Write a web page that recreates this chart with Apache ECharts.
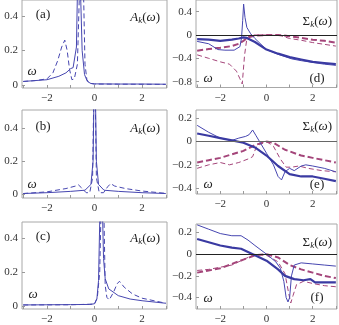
<!DOCTYPE html>
<html>
<head>
<meta charset="utf-8">
<script src="https://cdn.jsdelivr.net/npm/echarts@6/dist/echarts.min.js"></script>
<style>
    html, body { margin: 0; padding: 0; background: #fff; }
    #chart { width: 339px; height: 325px; }
</style>
</head>
<body>
<div id="chart"></div>
<script>
// 横轴刻度
const xTicks = [-2, 0, 2]
const xMinor = [-3, -2, -1, 0, 1, 2, 3]

// 纵轴刻度
const aTicks = [0, 0.2, 0.4]
const dTicks = [-0.8, -0.4, 0, 0.4]
const eTicks = [-0.4, -0.2, 0, 0.2]
const fTicks = [-0.4, -0.2, 0, 0.2]

// (a) 谱函数
const aSolid = [[-3, 0.02], [-2.5, 0.025], [-2, 0.03], [-1.5, 0.05], [-1.2, 0.07], [-1.0, 0.095], [-0.9, 0.1], [-0.82, 0.11],
    [-0.76, 0.22], [-0.71, 0.6], [-0.66, 1.6], [-0.6, 0.6], [-0.52, 0.2], [-0.42, 0.06], [-0.3, 0.02], [-0.15, 0.008], [0, 0.006], [1, 0.005], [2, 0.005], [3, 0.004]]
const aDashed = [[-3, 0.02], [-2.5, 0.025], [-2, 0.035], [-1.75, 0.07], [-1.55, 0.14], [-1.38, 0.22], [-1.25, 0.26], [-1.15, 0.2],
    [-1.05, 0.09], [-0.95, 0.03], [-0.85, 0.035], [-0.72, 0.12], [-0.62, 0.6], [-0.54, 1.6], [-0.47, 0.6], [-0.4, 0.12], [-0.32, 0.03], [-0.2, 0.01], [0, 0.005], [3, 0.003]]

// (b)
const bSolid = [[-3, 0.005], [-2, 0.01], [-1, 0.018], [-0.4, 0.025], [-0.15, 0.06], [-0.06, 0.2], [-0.02, 0.6], [0.01, 1.6],
    [0.04, 0.6], [0.08, 0.2], [0.17, 0.06], [0.4, 0.025], [1, 0.018], [2, 0.01], [3, 0.005]]
const bDashed = [[-3, 0.005], [-2, 0.015], [-1.2, 0.035], [-0.8, 0.05], [-0.68, 0.058], [-0.55, 0.04], [-0.35, 0.01], [-0.2, 0.01],
    [-0.08, 0.1], [-0.03, 0.6], [0, 1.6], [0.03, 0.6], [0.08, 0.1], [0.2, 0.01], [0.38, 0.01], [0.55, 0.045], [0.68, 0.065],
    [0.85, 0.05], [1.3, 0.035], [2, 0.02], [3, 0.006]]

// (c)
const cSolid = [[-3, 0.005], [-2, 0.006], [-1, 0.007], [-0.2, 0.008], [0, 0.012], [0.1, 0.04], [0.17, 0.15], [0.22, 0.5],
    [0.27, 1.6], [0.33, 0.6], [0.38, 0.28], [0.45, 0.16], [0.6, 0.1], [1, 0.06], [1.5, 0.04], [2, 0.03], [3, 0.015]]
const cDashed = [[-3, 0.005], [-1, 0.006], [0, 0.01], [0.12, 0.05], [0.22, 0.2], [0.28, 0.6], [0.33, 1.6], [0.39, 0.6],
    [0.45, 0.12], [0.52, 0.05], [0.62, 0.035], [0.8, 0.08], [0.95, 0.13], [1.05, 0.145], [1.25, 0.11], [1.6, 0.07], [2, 0.045], [3, 0.015]]

// (d) 自能
const dThick = [[-3, -0.07], [-2.5, -0.08], [-2, -0.1], [-1.5, -0.08], [-1.2, -0.06], [-1.0, -0.04], [-0.85, -0.05],
    [-0.5, -0.12], [0, -0.25], [0.5, -0.32], [1, -0.38], [1.5, -0.42], [2, -0.46], [2.5, -0.48], [3, -0.5]]
const dThin = [[-3, -0.11], [-2.5, -0.15], [-2.1, -0.25], [-1.8, -0.26], [-1.4, -0.26], [-1.15, -0.2], [-1.08, -0.05],
    [-1.03, 0.25], [-0.99, 0.53], [-0.93, 0.3], [-0.85, 0.13], [-0.7, 0.03], [-0.5, -0.06], [0, -0.25], [0.5, -0.33],
    [1.1, -0.41], [1.5, -0.44], [2, -0.47], [2.5, -0.5], [3, -0.52]]
const dThickDash = [[-3, -0.27], [-2.5, -0.24], [-2, -0.22], [-1.5, -0.19], [-1.2, -0.15], [-1.0, -0.1], [-0.8, -0.04],
    [-0.5, -0.01], [0, 0], [0.5, 0], [1, -0.02], [1.5, -0.05], [2, -0.08], [2.5, -0.1], [3, -0.13]]
const dThinDash = [[-3, -0.34], [-2.5, -0.4], [-2, -0.46], [-1.6, -0.5], [-1.3, -0.62], [-1.15, -0.75], [-1.05, -0.84],
    [-0.95, -0.35], [-0.85, -0.06], [-0.7, 0], [0, 0], [0.6, -0.01], [1, -0.06], [1.5, -0.09], [2, -0.13], [2.5, -0.16], [3, -0.19]]

// (e)
const eThick = [[-3, 0.07], [-2.5, 0.05], [-2, 0.03], [-1.5, 0.01], [-1, -0.01], [-0.5, -0.05], [0, -0.12], [0.5, -0.21],
    [1, -0.28], [1.5, -0.3], [2, -0.3], [2.5, -0.32], [3, -0.34]]
const eThin = [[-3, 0.14], [-2.5, 0.08], [-2, 0.03], [-1.5, 0.01], [-1.2, 0.03], [-0.9, 0.045], [-0.75, 0.06],
    [-0.6, 0.1], [-0.45, 0.05], [-0.3, 0], [0, -0.1], [0.3, -0.2], [0.5, -0.3], [0.65, -0.33], [0.8, -0.26], [1, -0.23],
    [1.2, -0.25], [1.5, -0.21], [1.7, -0.2], [2, -0.21], [2.5, -0.23], [3, -0.26]]
const eThickDash = [[-3, -0.18], [-2.5, -0.16], [-2, -0.14], [-1.5, -0.11], [-1, -0.08], [-0.5, -0.03], [0, 0],
    [0.3, -0.01], [0.8, -0.07], [1.5, -0.12], [2, -0.14], [2.5, -0.16], [3, -0.18]]
const eThinDash = [[-3, -0.23], [-2.5, -0.2], [-2, -0.18], [-1.6, -0.2], [-1.2, -0.18], [-0.8, -0.15], [-0.6, -0.13],
    [-0.45, -0.05], [-0.2, -0.01], [0, 0], [0.3, -0.04], [0.6, -0.15], [0.85, -0.22], [1.1, -0.22], [1.4, -0.21],
    [1.8, -0.23], [2.4, -0.25], [3, -0.26]]

// (f)
const fThin = [[-3, 0.27], [-2.5, 0.23], [-2, 0.19], [-1.5, 0.17], [-1.1, 0.17], [-0.8, 0.13], [-0.5, 0.08], [0, 0],
    [0.4, -0.07], [0.6, -0.13], [0.75, -0.25], [0.85, -0.4], [0.93, -0.44], [1.0, -0.4], [1.08, -0.2], [1.2, -0.1],
    [1.5, -0.08], [2, -0.09], [2.5, -0.1], [3, -0.11]]
const fThick = [[-3, 0.14], [-2.5, 0.11], [-2, 0.08], [-1.5, 0.06], [-1.1, 0.05], [-0.5, -0.01], [0, -0.06], [0.5, -0.14],
    [0.8, -0.2], [1.2, -0.23], [1.6, -0.24], [1.9, -0.23], [2.1, -0.26], [2.5, -0.26], [3, -0.26]]
const fThickDash = [[-3, -0.17], [-2.5, -0.15], [-2, -0.13], [-1.5, -0.09], [-1, -0.05], [-0.5, -0.01], [0, 0],
    [0.5, -0.03], [1, -0.1], [1.5, -0.14], [2, -0.17], [2.5, -0.2], [3, -0.22]]
const fThinDash = [[-3, -0.15], [-2.5, -0.14], [-2, -0.12], [-1.5, -0.1], [-1, -0.05], [-0.5, 0], [0, -0.01], [0.5, -0.07],
    [0.8, -0.18], [0.95, -0.35], [1.05, -0.45], [1.15, -0.38], [1.3, -0.28], [1.6, -0.25], [2, -0.27], [2.5, -0.29], [3, -0.3]]

const BLUE = '#4646b0'
const BLUE_THICK = '#3a3aa2'
const PURPLE = '#a4457a'
const FONT = 'Liberation Serif'

// 面板布局
const panels = [
    { left: 22, top: 0, width: 145, height: 88, min: -0.018, max: 0.493, ticks: aTicks },
    { left: 22, top: 110, width: 145, height: 88, min: -0.022, max: 0.509, ticks: aTicks },
    { left: 22, top: 222, width: 145, height: 88, min: -0.019, max: 0.496, ticks: aTicks },
    { left: 196, top: 0, width: 141, height: 87.5, min: -0.9, max: 0.6, ticks: dTicks },
    { left: 196, top: 110, width: 141, height: 84, min: -0.451, max: 0.272, ticks: eTicks },
    { left: 196, top: 224, width: 141, height: 85, min: -0.505, max: 0.278, ticks: fTicks },
]

function fmt(v) {
    if (Math.abs(v) < 1e-9) return '0'
    return String(Math.round(v * 10) / 10).replace('-', '\u2212')
}

const grid = panels.map(p => ({
    left: p.left, top: p.top, width: p.width, height: p.height,
    show: true, borderColor: '#a8a8a8', borderWidth: 1, containLabel: false
}))

const xAxis = panels.map((p, i) => ({
    type: 'value', gridIndex: i, min: -3.05, max: 3.05, position: 'bottom',
    axisLine: { show: false, onZero: false },
    splitLine: { show: false },
    axisTick: { inside: true, length: 3, customValues: xMinor, lineStyle: { color: '#999' } },
    axisLabel: { customValues: xTicks, formatter: fmt, fontFamily: FONT, fontSize: 11, color: '#333', margin: 5 }
}))

const yAxis = panels.map((p, i) => ({
    type: 'value', gridIndex: i, min: p.min, max: p.max, position: 'left',
    axisLine: { show: false, onZero: false },
    splitLine: { show: false },
    axisTick: { inside: true, length: 3, customValues: p.ticks, lineStyle: { color: '#999' } },
    axisLabel: { customValues: p.ticks, formatter: fmt, fontFamily: FONT, fontSize: 11, color: '#333', margin: 4 }
}))

function line(idx, data, color, width, dashed) {
    return {
        type: 'line', xAxisIndex: idx, yAxisIndex: idx, data: data,
        symbol: 'none', clip: true, silent: true,
        lineStyle: { color: color, width: width, type: dashed ? [width > 1.5 ? 6 : 5, 3] : 'solid' }
    }
}

// 自能面板里 y=0 的横线挂在粗虚线上
function withZero(s, color) {
    s.markLine = {
        silent: true, symbol: 'none', label: { show: false },
        lineStyle: { color: color, width: 1, type: 'solid' },
        data: [{ yAxis: 0 }]
    }
    return s
}

const series = [
    line(0, aDashed, BLUE, 1, true), line(0, aSolid, BLUE, 1, false),
    line(1, bDashed, BLUE, 1, true), line(1, bSolid, BLUE, 1, false),
    line(2, cDashed, BLUE, 1, true), line(2, cSolid, BLUE, 1, false),
    withZero(line(3, dThinDash, PURPLE, 1, true), '#222'), line(3, dThickDash, PURPLE, 2, true),
    line(3, dThin, BLUE, 1, false), line(3, dThick, BLUE_THICK, 2.2, false),
    withZero(line(4, eThinDash, PURPLE, 1, true), '#666'), line(4, eThickDash, PURPLE, 2, true),
    line(4, eThin, BLUE, 1, false), line(4, eThick, BLUE_THICK, 2.2, false),
    withZero(line(5, fThinDash, PURPLE, 1, true), '#222'), line(5, fThickDash, PURPLE, 2, true),
    line(5, fThin, BLUE, 1, false), line(5, fThick, BLUE_THICK, 2.2, false),
]

const rich = {
    i: { fontFamily: FONT, fontStyle: 'italic', fontSize: 13, fill: '#222' },
    n: { fontFamily: FONT, fontSize: 13, fill: '#222' },
    s: { fontFamily: FONT, fontStyle: 'italic', fontSize: 9, fill: '#222', padding: [6, 0, 0, 0] }
}

function txt(x, y, text, align) {
    return {
        type: 'text', x: x, y: y, silent: true,
        style: { text: text, fontFamily: FONT, fontSize: 13, fill: '#222', align: align || 'center', verticalAlign: 'middle', rich: rich }
    }
}

const graphic = [
    txt(43, 15, '(a)'), txt(43, 127, '(b)'), txt(43, 237, '(c)'),
    txt(317, 79, '(d)'), txt(317, 185, '(e)'), txt(317, 298, '(f)'),
    txt(160, 18, '{i|A}{s|k}{n|(}{i|ω}{n|)}', 'right'),
    txt(160, 129, '{i|A}{s|k}{n|(}{i|ω}{n|)}', 'right'),
    txt(160, 239, '{i|A}{s|k}{n|(}{i|ω}{n|)}', 'right'),
    txt(332, 22, '{n|Σ}{s|k}{n|(}{i|ω}{n|)}', 'right'),
    txt(332, 127, '{n|Σ}{s|k}{n|(}{i|ω}{n|)}', 'right'),
    txt(332, 243, '{n|Σ}{s|k}{n|(}{i|ω}{n|)}', 'right'),
    txt(32, 72, '{i|ω}'), txt(32, 185, '{i|ω}'), txt(33, 295, '{i|ω}'),
    txt(208, 79, '{i|ω}'), txt(208, 185, '{i|ω}'), txt(208, 299, '{i|ω}'),
]

const chart = echarts.init(document.getElementById('chart'))
chart.setOption({
    animation: false,
    grid: grid,
    xAxis: xAxis,
    yAxis: yAxis,
    series: series,
    graphic: graphic
})
</script>
</body>
</html>
